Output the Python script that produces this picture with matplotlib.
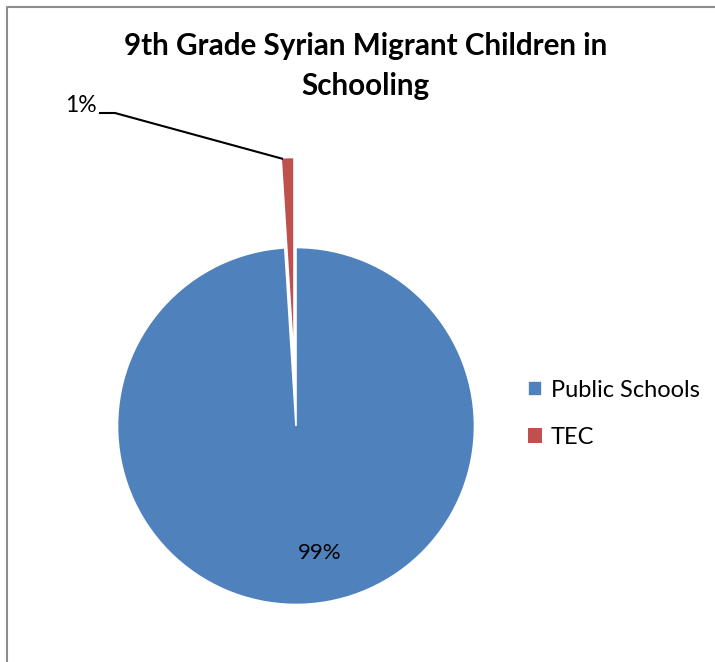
import matplotlib
matplotlib.use("Agg")
import matplotlib.pyplot as plt
from matplotlib.lines import Line2D
import numpy as np

plt.rcParams['font.family'] = ['Lato', 'DejaVu Sans']

labels = ['Public Schools', 'TEC']
values = [99, 1]
colors = ['#4f81bd', '#c0504d']
explode = [0, 0.5]
title = '9th Grade Syrian Migrant Children in\nSchooling'

W, H = 715, 662
fig = plt.figure(figsize=(W / 100, H / 100), dpi=100)
ax = fig.add_axes([0, 0, 1, 1])

# chart area border (top and left visible)
ax.add_line(Line2D([7, 7, W], [0, H - 7, H - 7], color='#8c8c8c', lw=1.5))

cx, cy, r = 296, H - 426, 178.5
# pie explode is in data units, so scale the fraction by the radius
wedges, _ = ax.pie(values, colors=colors, explode=[e * r for e in explode],
                   startangle=90, counterclock=False, center=(cx, cy), radius=r,
                   wedgeprops=dict(edgecolor='white', linewidth=1.2),
                   frame=True)
ax.set_xlim(0, W)
ax.set_ylim(0, H)
ax.set_aspect('equal')
ax.axis('off')
wedges[0].set_zorder(3)
wedges[1].set_zorder(2)
wedges[1].set_linewidth(0)

total = sum(values)
pct = [f'{round(v / total * 100)}%' for v in values]

# 99% label inside the big slice
ax.text(320, H - 553, pct[0], ha='center', va='center', fontsize=16, zorder=5)

# 1% label with leader line to the exploded slice
w = wedges[1]
ang = np.deg2rad(w.theta2)
ex, ey = w.center[0] + w.r * np.cos(ang), w.center[1] + w.r * np.sin(ang)
ax.plot([100, 115, ex], [H - 113, H - 113, ey], color='black', lw=1.5, zorder=4)
ax.text(97, H - 105, pct[1], ha='right', va='center', fontsize=16.5)

fig.text(366 / W, 1 - 66 / H, title, ha='center', va='center',
         fontsize=21.3, fontweight='bold', linespacing=1.5)

fig.legend(wedges, labels, loc='center left', bbox_to_anchor=(507 / W, 1 - 414 / H),
           frameon=False, fontsize=17, handlelength=0.6, handleheight=0.6,
           handletextpad=0.35, labelspacing=1.1)

fig.savefig('out.png', dpi=100)
